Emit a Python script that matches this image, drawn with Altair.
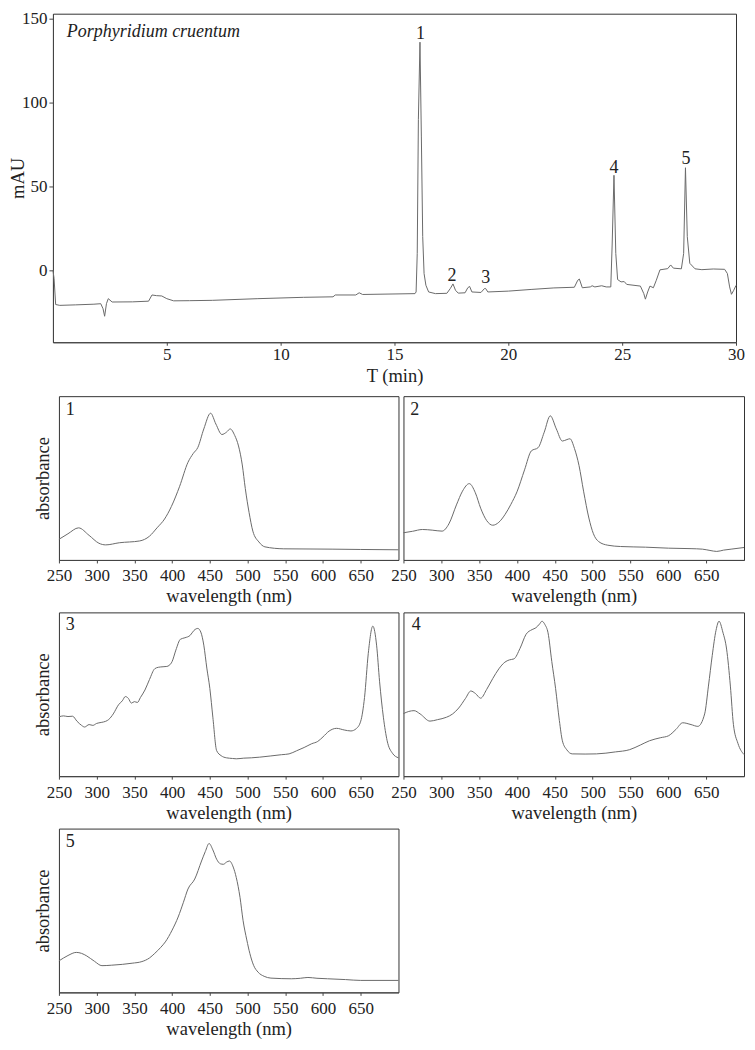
import altair as alt
import pandas as pd

# ---------------- chromatogram (T in min, mAU) ----------------
chrom_t = [0.0, 0.05, 0.12, 0.3, 1.0, 1.8, 2.1, 2.2, 2.27, 2.35, 2.43, 2.6, 3.5, 4.2, 4.35,
           4.55, 4.78, 5.0, 5.3, 6.0, 7.0, 9.0, 11.0, 12.3, 12.4, 13.3, 13.45, 13.6, 15.9,
           15.95, 16.0, 16.05, 16.12, 16.18, 16.24, 16.3, 16.38, 16.5, 16.8, 17.3, 17.45,
           17.57, 17.68, 17.8, 18.1, 18.22, 18.3, 18.4, 18.8, 18.95, 19.0, 19.1, 20.0, 21.0,
           22.0, 22.9, 23.05, 23.12, 23.25, 23.6, 23.68, 23.8, 24.1, 24.3, 24.5, 24.56, 24.64,
           24.72, 24.8, 24.95, 25.09, 25.2, 25.8, 25.95, 26.02, 26.12, 26.22, 26.37, 26.5,
           26.66, 27.0, 27.13, 27.25, 27.6, 27.7, 27.78, 27.86, 27.97, 28.2, 28.5, 29.0,
           29.5, 29.62, 29.72, 29.8, 29.9, 30.0]
chrom_mau = [0.0, -5.0, -20.5, -21.0, -20.7, -20.3, -20.0, -23.0, -27.5, -20.0, -17.0, -19.0,
             -18.9, -18.5, -14.8, -15.2, -15.4, -17.0, -18.3, -18.2, -18.0, -17.0, -16.2,
             -15.9, -14.8, -14.8, -13.5, -14.5, -14.0, -13.0, 10.0, 90.0, 136.0, 80.0, 20.0,
             -2.0, -9.0, -13.0, -14.0, -13.8, -11.0, -8.2, -12.0, -13.7, -13.5, -10.5, -9.7,
             -13.0, -13.3, -11.0, -10.9, -13.0, -12.5, -11.5, -10.6, -10.2, -6.0, -5.3,
             -10.5, -10.0, -9.3, -10.0, -9.3, -10.0, -10.0, 15.0, 56.6, 10.0, -5.6, -7.0,
             -6.8, -8.5, -9.5, -14.0, -17.3, -13.0, -9.5, -10.5, -6.0, 0.2, 0.9, 3.1, 1.2,
             0.8, 10.0, 61.1, 20.0, 4.1, 0.8, 0.3, 0.7, 0.5, -2.0, -10.0, -14.4, -12.0, -9.1]

peak_names = ["1", "2", "3", "4", "5"]
peak_t = [16.14, 17.53, 19.01, 24.64, 27.8]
peak_mau = [137.7, -6.4, -7.6, 57.8, 63.6]

species_name = ["Porphyridium cruentum"]
species_t = [0.61]
species_mau = [139.0]

# ---------------- UV-vis spectra of the peaks ----------------
spec1_wl = [250, 262, 276, 290, 303, 312, 330, 357, 370, 380, 390, 399, 410, 421, 428, 434,
            442, 451, 458, 466, 472, 477, 483, 488, 493, 497, 502, 507, 515, 523, 548, 612,
            650, 700]
spec1_abs = [12.6, 16.0, 19.6, 15.0, 10.2, 9.2, 10.5, 11.6, 14.5, 19.6, 25.0, 32.6, 45.0,
             59.6, 65.0, 68.6, 80.0, 89.6, 83.0, 76.6, 78.0, 80.0, 76.0, 69.6, 58.0, 43.6,
             29.0, 17.6, 11.0, 8.0, 6.8, 6.6, 6.4, 6.2]

spec2_wl = [250, 262, 275, 288, 301, 310, 320, 328, 337, 345, 352, 360, 368, 376, 384, 392,
            400, 410, 419, 428, 436, 444, 452, 460, 466, 470, 476, 482, 488, 495, 501, 508,
            520, 537, 570, 600, 630, 645, 655, 664, 673, 683, 700]
spec2_abs = [16.6, 17.5, 18.6, 18.2, 17.6, 22.0, 33.6, 42.0, 46.6, 41.0, 31.6, 24.0, 21.2,
             23.0, 27.6, 34.0, 41.6, 55.0, 66.6, 68.6, 78.0, 88.0, 80.0, 72.6, 73.5, 74.0,
             68.0, 57.6, 42.0, 25.6, 16.0, 11.2, 9.0, 8.2, 7.8, 7.2, 6.9, 6.6, 5.8, 5.2,
             6.0, 6.6, 7.6]

spec3_wl = [250, 256, 262, 268, 274, 280, 284, 290, 295, 300, 306, 312, 316, 322, 329, 334,
            338, 342, 346, 350, 354, 358, 364, 370, 377, 382, 388, 393, 396, 400, 405, 411,
            417, 424, 429, 434, 438, 442, 446, 450, 454, 459, 465, 472, 480, 485, 495, 505,
            516, 530, 545, 555, 565, 575, 585, 593, 600, 608, 618, 628, 637, 644, 650, 655,
            660, 666, 671, 675, 680, 685, 692, 700]
spec3_abs = [36.2, 36.8, 36.4, 36.6, 33.5, 31.0, 30.0, 31.5, 31.0, 32.2, 32.8, 33.5, 34.6,
             38.0, 43.6, 46.0, 48.6, 47.5, 44.6, 45.5, 45.0, 48.0, 52.6, 59.0, 65.6, 66.5,
             66.8, 67.0, 67.6, 70.0, 77.0, 83.6, 84.5, 86.0, 89.0, 90.2, 88.0, 80.0, 66.0,
             53.6, 36.0, 15.6, 12.5, 11.2, 10.8, 10.6, 11.0, 11.2, 11.6, 12.3, 13.1, 13.6,
             15.5, 17.5, 19.8, 21.2, 24.0, 27.5, 29.2, 28.2, 27.6, 29.0, 33.6, 48.0, 75.0,
             91.6, 80.0, 57.6, 36.0, 21.6, 14.0, 11.2]

spec4_wl = [250, 257, 264, 272, 285, 295, 307, 315, 323, 332, 339, 345, 352, 360, 368, 376,
            384, 390, 396, 404, 412, 420, 425, 430, 433, 437, 441, 446, 451, 456, 460, 466,
            473, 490, 505, 530, 549, 563, 575, 590, 600, 610, 619, 630, 639, 648, 653, 658,
            663, 667, 672, 677, 682, 686, 692, 700]
spec4_abs = [38.2, 39.5, 40.0, 38.0, 33.6, 34.5, 36.0, 38.0, 41.6, 47.5, 52.0, 50.5, 47.6,
             53.0, 59.6, 65.5, 69.6, 71.0, 71.6, 78.0, 86.6, 89.5, 90.6, 93.0, 94.6, 92.5,
             87.6, 70.0, 53.6, 34.0, 21.6, 16.0, 13.6, 13.5, 13.6, 14.8, 16.2, 19.0, 21.6,
             23.5, 24.6, 28.5, 32.6, 31.5, 30.4, 38.0, 55.0, 73.6, 89.0, 94.6, 88.0, 77.6,
             55.0, 31.6, 20.0, 13.2]

spec5_wl = [250, 262, 273, 280, 287, 297, 307, 320, 334, 347, 360, 370, 377, 385, 391, 400,
            408, 415, 421, 430, 439, 444, 449, 454, 459, 464, 468, 472, 476, 481, 485, 490,
            494, 499, 503, 508, 514, 522, 531, 558, 570, 580, 592, 606, 630, 650, 700]
spec5_abs = [19.2, 22.5, 24.4, 23.8, 22.2, 19.0, 16.3, 16.6, 17.1, 17.8, 18.8, 21.0, 23.8,
             27.5, 30.8, 38.0, 46.0, 55.0, 63.1, 69.2, 80.2, 86.0, 90.9, 87.0, 81.3, 78.5,
             78.2, 79.5, 80.2, 76.5, 70.2, 58.0, 44.0, 32.0, 23.8, 16.5, 12.3, 9.8, 8.7,
             8.3, 8.6, 9.1, 8.6, 8.3, 7.8, 7.3, 7.3]

panel_names = ["1", "2", "3", "4", "5"]
panel_label_wl = [265, 265, 265, 267, 265]
panel_label_abs = [88.5, 88.5, 89.0, 89.0, 88.5]

wl_ticks = [250, 300, 350, 400, 450, 500, 550, 600, 650]
t_ticks = [5, 10, 15, 20, 25, 30]
mau_ticks = [0, 50, 100, 150]

# ---------------- styling ----------------
FONT = "Liberation Serif"
LINE = "#6a6a6a"
TXT = "#222222"
FRAME = "#333333"

# ---------------- top chromatogram ----------------
xs = alt.Scale(domain=[0, 30], nice=False, zero=False)
ys = alt.Scale(domain=[-43, 153], nice=False, zero=False)
x_top = alt.X("t:Q", scale=xs,
              axis=alt.Axis(values=t_ticks, title="T (min)", tickSize=3, labelPadding=1.5,
                            titlePadding=4))
y_top = alt.Y("mAU:Q", scale=ys,
              axis=alt.Axis(values=mau_ticks, title="mAU", tickSize=4, labelPadding=2,
                            titlePadding=-6))

chrom = pd.DataFrame({"t": chrom_t, "mAU": chrom_mau})
peaks = pd.DataFrame({"t": peak_t, "mAU": peak_mau, "label": peak_names})
species = pd.DataFrame({"t": species_t, "mAU": species_mau, "label": species_name})

chrom_line = alt.Chart(chrom).mark_line(color=LINE, strokeWidth=1).encode(x=x_top, y=y_top)
peak_text = alt.Chart(peaks).mark_text(font=FONT, fontSize=18, color=TXT,
                                       baseline="alphabetic").encode(
    x=x_top, y=y_top, text="label:N")
species_text = alt.Chart(species).mark_text(font=FONT, fontSize=18, fontStyle="italic",
                                            color=TXT, align="left",
                                            baseline="alphabetic").encode(
    x=x_top, y=y_top, text="label:N")
top = alt.layer(chrom_line, peak_text, species_text).properties(width=684, height=329)


# ---------------- spectra panels ----------------
def panel(wl, ab, idx, with_title, width, title_y=None):
    xsc = alt.Scale(domain=[250, 700], nice=False, zero=False)
    ysc = alt.Scale(domain=[0, 100], nice=False, zero=False)
    df = pd.DataFrame({"wavelength": wl, "absorbance": ab})
    lab = pd.DataFrame({"wavelength": [panel_label_wl[idx]],
                        "absorbance": [panel_label_abs[idx]],
                        "label": [panel_names[idx]]})
    if with_title:
        kw = dict(title="absorbance", labels=False, ticks=False, domain=False,
                  titlePadding=6)
        if title_y is not None:
            kw["titleY"] = title_y
        yaxis = alt.Axis(**kw)
    else:
        yaxis = None
    x_enc = alt.X("wavelength:Q", scale=xsc,
                  axis=alt.Axis(values=wl_ticks, title="wavelength (nm)", tickSize=3,
                                labelPadding=5, titlePadding=3))
    y_enc = alt.Y("absorbance:Q", scale=ysc, axis=yaxis)
    line = alt.Chart(df).mark_line(color=LINE, strokeWidth=1,
                                   interpolate="monotone").encode(x=x_enc, y=y_enc)
    txt = alt.Chart(lab).mark_text(font=FONT, fontSize=18, color=TXT,
                                   baseline="alphabetic").encode(
        x=x_enc, y=y_enc, text="label:N")
    return alt.layer(line, txt).properties(width=width, height=164)


SPACER_W = 1


def spacer():
    return alt.Chart(pd.DataFrame({"s": [0.5]})).mark_point(opacity=0, size=1).encode(
        x=alt.X("s:Q", scale=alt.Scale(domain=[0, 1]), axis=None),
        y=alt.Y("s:Q", scale=alt.Scale(domain=[0, 1]), axis=None),
    ).properties(width=SPACER_W, height=164,
                 view=alt.ViewBackground(stroke="transparent"))


p1 = panel(spec1_wl, spec1_abs, 0, True, 340)
p2 = panel(spec2_wl, spec2_abs, 1, False, 341)
p3 = panel(spec3_wl, spec3_abs, 2, True, 340)
p4 = panel(spec4_wl, spec4_abs, 3, False, 341)
p5 = panel(spec5_wl, spec5_abs, 4, True, 340)

row1 = alt.hconcat(spacer(), p1, p2, spacing=5, bounds="flush")
row2 = alt.hconcat(spacer(), p3, p4, spacing=5, bounds="flush")
row3 = alt.hconcat(spacer(), p5, spacing=5, bounds="flush")

rows = alt.vconcat(row1, row2, row3, spacing=5.5)

chart = alt.vconcat(top, rows, spacing=9).properties(
    padding=0
).configure_view(
    stroke=FRAME, strokeWidth=1
).configure_axis(
    labelFont=FONT, labelFontSize=17, labelColor=TXT, labelOverlap=False,
    labelFlush=False,
    titleFont=FONT, titleFontSize=18.5, titleFontWeight="normal", titleColor=TXT,
    tickColor="#444444", domainColor="#444444", domainWidth=1, grid=False,
).configure_concat(spacing=6)

chart.save("out.html", embed_options={"renderer": "svg", "actions": False})
